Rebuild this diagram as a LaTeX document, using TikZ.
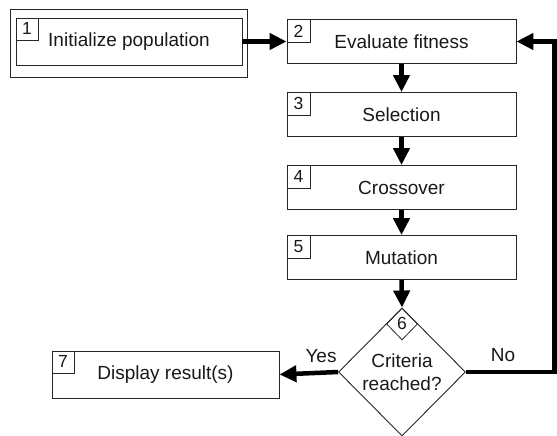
\documentclass[tikz,border=0pt]{standalone}
\usepackage{fontspec}
\setmainfont{Liberation Sans}
\usetikzlibrary{arrows.meta,shapes.geometric}
\begin{document}
\begin{tikzpicture}[x=1pt,y=-1pt,
  stepbox/.style={draw=black!85,line width=0.9pt,minimum width=229pt,minimum height=44pt,inner sep=0pt,font=\fontsize{19}{22}\selectfont,text=black!90},
  numbox/.style={draw=black!85,line width=0.8pt,minimum width=23pt,minimum height=23pt,inner sep=0pt,font=\fontsize{17.5}{19}\selectfont,text=black!90},
  flow/.style={line width=4.5pt,-{Triangle[length=17pt,width=16pt]}},
  lbl/.style={font=\fontsize{19}{22}\selectfont,text=black!90}]
\useasboundingbox (0,0) rectangle (557,436);
% box 1
\draw[draw=black!85,line width=0.9pt] (10,9) rectangle (247,77);
\node[stepbox,minimum width=226pt,minimum height=47pt] (b1) at (129,41.5) {Initialize population};
\node[numbox,minimum width=22pt,minimum height=22pt,anchor=north west] (n1) at (b1.north west) {1};
% box 2-5
\node[stepbox] (b2) at (401.5,41.5) {Evaluate fitness};
\node[numbox,anchor=north west] (n2) at (b2.north west) {2};
\node[stepbox] (b3) at (401.5,114.5) {Selection};
\node[numbox,anchor=north west] (n3) at (b3.north west) {3};
\node[stepbox] (b4) at (401.5,187.5) {Crossover};
\node[numbox,anchor=north west] (n4) at (b4.north west) {4};
\node[stepbox] (b5) at (401.5,257.5) {Mutation};
\node[numbox,anchor=north west] (n5) at (b5.north west) {5};
% diamond
\node[diamond,draw=black!85,line width=0.9pt,minimum width=126pt,minimum height=128pt,inner sep=0pt,align=center,font=\fontsize{19}{23}\selectfont,text=black!90] (d6) at (402,372) {\raisebox{-8pt}{\parbox{90pt}{\centering Criteria\\reached?}}};
\node[diamond,draw=black!85,line width=0.8pt,minimum width=31pt,minimum height=32pt,inner sep=0pt,anchor=north,font=\fontsize{17.5}{19}\selectfont,text=black!90] (n6) at (d6.north) {\raisebox{2pt}{6}};
% box 7
\node[stepbox,minimum width=227pt,minimum height=47pt] (b7) at (165.5,374.5) {Display result(s)};
\node[numbox,minimum width=22pt,minimum height=22pt,anchor=north west] (n7) at (b7.north west) {7};
% arrows
\draw[flow] (b1.east) -- (b2.west);
\draw[flow] (b2.south) -- (b3.north);
\draw[flow] (b3.south) -- (b4.north);
\draw[flow] (b4.south) -- (b5.north);
\draw[flow] (b5.south) -- (d6.north);
\draw[flow] (d6.west) -- (b7.east);
\coordinate (c1) at (554.5,372);
\coordinate (c2) at (554.5,41.5);
\draw[flow] (d6.east) -- (c1) -- (c2) -- (b2.east);
\node[lbl] (yes) at (321,356) {Yes};
\node[lbl] (no) at (503,355) {No};
\end{tikzpicture}
\end{document}
